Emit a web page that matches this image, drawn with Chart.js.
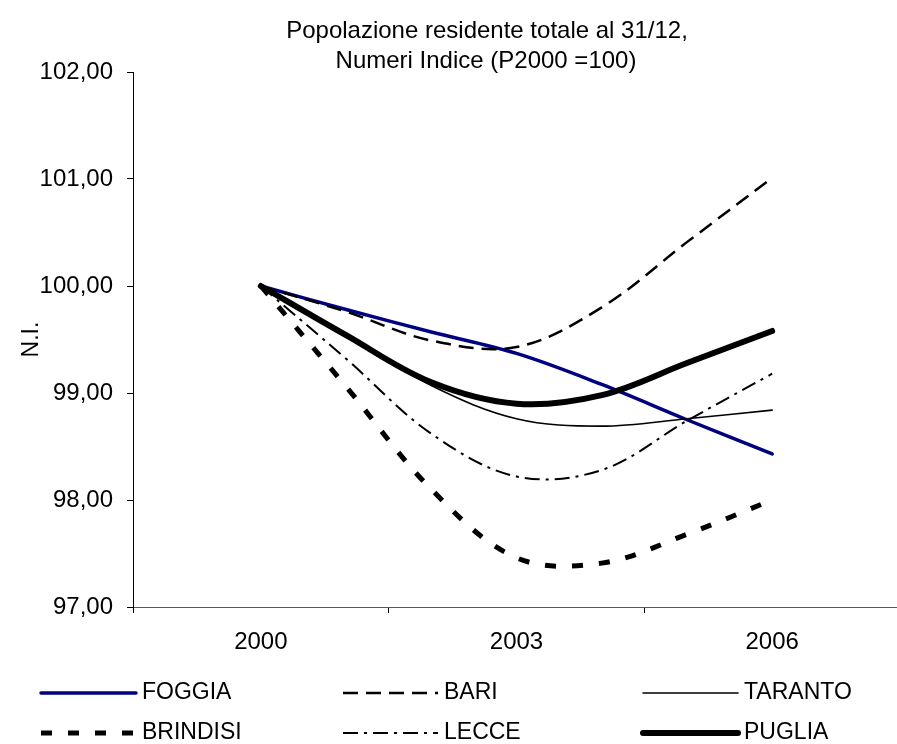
<!DOCTYPE html>
<html>
<head>
<meta charset="utf-8">
<script src="https://cdn.jsdelivr.net/npm/chart.js@4.4.0/dist/chart.umd.min.js"></script>
<style>
  html, body { margin: 0; padding: 0; background: #fff; overflow: hidden; }
  #wrap { position: relative; width: 903px; height: 744px; }
</style>
</head>
<body>
<div id="wrap"><canvas id="popChart"></canvas></div>
<script>
// anni (etichette mostrate solo ogni 3)
const years = ['2000', '2001', '2002', '2003', '2004', '2005', '2006'];
const shownYears = ['2000', '2003', '2006'];

// numeri indice, P2000 = 100
const foggia   = [100, 99.78, 99.57, 99.37, 99.08, 98.75, 98.43];
const bari     = [100, 99.76, 99.49, 99.43, 99.80, 100.41, 101.01];
const taranto  = [100, 99.55, 99.07, 98.76, 98.69, 98.76, 98.84];
const brindisi = [100, 99.06, 98.10, 97.46, 97.41, 97.68, 98.00];
const lecce    = [100, 99.32, 98.62, 98.22, 98.28, 98.74, 99.18];
const puglia   = [100, 99.54, 99.10, 98.90, 98.98, 99.28, 99.58];

const yMin = 97;
const yMax = 102;
const titleLines = ['Popolazione residente totale al 31/12,', 'Numeri Indice (P2000 =100)'];

const FONT = '"Liberation Sans", Arial, sans-serif';

// one empty slot before and after the years, like the original axis
const labels = [''].concat(years, ['']);
const pad = arr => [null].concat(arr, [null]);

function line(label, data, color, width, dash, cap, order) {
    return {
        label: label,
        data: pad(data),
        borderColor: color,
        backgroundColor: color,
        borderWidth: width,
        borderDash: dash,
        borderCapStyle: cap,
        borderJoinStyle: 'round',
        pointRadius: 0,
        pointHoverRadius: 0,
        tension: 0.35,
        fill: false,
        order: order
    };
}

// Title in two lines, centred over the plot
const titlePlugin = {
    id: 'twoLineTitle',
    afterDraw(chart) {
        const ctx = chart.ctx;
        ctx.save();
        ctx.font = '24px ' + FONT;
        ctx.fillStyle = '#000';
        ctx.textAlign = 'center';
        ctx.textBaseline = 'alphabetic';
        ctx.fillText(titleLines[0], 487, 38);
        ctx.fillText(titleLines[1], 486, 68);
        ctx.restore();
    }
};

// Legend laid out as a 3x2 grid
const legendPlugin = {
    id: 'gridLegend',
    afterDraw(chart) {
        const ctx = chart.ctx;
        const colX = [41, 343, 643];
        const rowY = [693, 733];
        chart.data.datasets.forEach((ds, i) => {
            const x = colX[i % 3];
            const y = rowY[Math.floor(i / 3)];
            ctx.save();
            ctx.strokeStyle = ds.borderColor;
            ctx.lineWidth = ds.borderWidth;
            ctx.lineCap = ds.borderCapStyle;
            ctx.setLineDash(ds.borderDash);
            ctx.beginPath();
            ctx.moveTo(x, y);
            ctx.lineTo(x + 95, y);
            ctx.stroke();
            ctx.setLineDash([]);
            ctx.fillStyle = '#000';
            ctx.font = '23px ' + FONT;
            ctx.textBaseline = 'middle';
            ctx.fillText(ds.label, x + 101, y);
            ctx.restore();
        });
    }
};

const ctx = document.getElementById('popChart').getContext('2d');
new Chart(ctx, {
    type: 'line',
    data: {
        labels: labels,
        datasets: [
            line('FOGGIA', foggia, '#000080', 3.5, [], 'round', 5),
            line('BARI', bari, '#000', 2.5, [15, 8], 'butt', 4),
            line('TARANTO', taranto, '#000', 1.6, [], 'round', 3),
            line('BRINDISI', brindisi, '#000', 5, [11, 16], 'butt', 2),
            line('LECCE', lecce, '#000', 2, [15, 6, 3, 6], 'butt', 1),
            line('PUGLIA', puglia, '#000', 6, [], 'round', 0)
        ]
    },
    options: {
        responsive: true,
        maintainAspectRatio: false,
        animation: false,
        layout: { padding: { top: 72, bottom: 87, left: 0, right: 3 } },
        plugins: {
            legend: { display: false },
            title: { display: false },
            tooltip: { enabled: false }
        },
        scales: {
            x: {
                offset: true,
                afterFit(scale) { scale.height = 50; },
                border: { display: true, color: '#595959', width: 1 },
                grid: {
                    offset: true,
                    drawOnChartArea: false,
                    drawTicks: true,
                    tickLength: 6,
                    tickColor: c => (c.index !== undefined && c.index % 3 === 0 ? '#000' : 'rgba(0,0,0,0)')
                },
                ticks: {
                    autoSkip: false,
                    maxRotation: 0,
                    padding: 15,
                    color: '#000',
                    font: { family: FONT, size: 24 },
                    callback: function(value) {
                        const lab = this.getLabelForValue(value);
                        return shownYears.includes(lab) ? lab : '';
                    }
                }
            },
            y: {
                min: yMin,
                max: yMax,
                afterFit(scale) { scale.width = 133; },
                border: { display: true, color: '#000', width: 1 },
                grid: {
                    drawOnChartArea: false,
                    drawTicks: true,
                    tickLength: 6,
                    tickColor: '#000'
                },
                ticks: {
                    stepSize: 1,
                    padding: 14,
                    color: '#000',
                    font: { family: FONT, size: 24 },
                    callback: v => v.toFixed(2).replace('.', ',')
                },
                title: {
                    display: true,
                    text: 'N.I.',
                    color: '#000',
                    font: { family: FONT, size: 23 },
                    padding: 18
                }
            }
        }
    },
    plugins: [titlePlugin, legendPlugin]
});
</script>
</body>
</html>
